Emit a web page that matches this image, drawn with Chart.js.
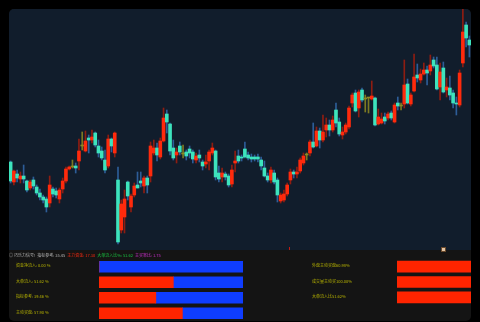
<!DOCTYPE html>
<html>
<head>
<meta charset="utf-8">
<script src="https://cdn.jsdelivr.net/npm/chart.js@4"></script>
<style>
    html, body { margin: 0; padding: 0; background: #000; width: 480px; height: 322px; overflow: hidden; }
    body { font-family: "Noto Sans CJK SC", "Noto Sans", sans-serif; }
    #wrap { position: absolute; left: 9px; top: 9px; width: 462px; height: 312px; border-radius: 5px; overflow: hidden; background: #141414; }
    #kPanel { position: absolute; left: 0; top: 0; width: 462px; height: 241px; background: #111d2c; }
    #headline { position: absolute; left: 0; top: 244px; height: 5px; line-height: 5px; font-size: 4px; white-space: nowrap; color: #b9b9b9; }
    #headline span { margin-right: 2px; }
    .lbl { position: absolute; font-size: 4px; line-height: 5px; color: #b8b400; white-space: nowrap; }
    .barBox { position: absolute; }
    .tick { position: absolute; left: 280px; top: 238px; width: 1px; height: 3px; background: #c41a10; }
    .flag { position: absolute; left: 432px; top: 238px; width: 3px; height: 3px; background: #e2c4a4; border: 1px solid #6a4a2c; }
</style>
</head>
<body>
<div id="wrap">
    <div id="kPanel"><canvas id="kChart"></canvas></div>
    <div class="tick"></div>
    <div class="flag"></div>
    <div id="headline"></div>
    <div id="leftLabels"></div>
    <div id="rightLabels"></div>
    <div class="barBox" style="left:90px; top:250px; width:144px; height:62px;"><canvas id="leftBars"></canvas></div>
    <div class="barBox" style="left:388px; top:250px; width:144px; height:46px;"><canvas id="rightBars"></canvas></div>
</div>
<script>
// --- K-line data (open / high / low / close) ---
const candleOpen = [
    8.8, 6.8, 7.6, 7.1, 7.4, 6.9, 6.2, 7.0, 6.3, 5.7,
    5.3, 5.1, 4.7, 6.1, 5.9, 5.1, 6.1, 6.9, 8.1, 8.3,
    8.4, 8.9, 10.4, 9.9, 11.2, 11.0, 11.7, 10.4, 9.9, 9.0,
    8.4, 11.1, 9.7, 7.0, 2.0, 3.3, 6.8, 4.3, 5.5, 6.5,
    6.9, 6.4, 7.2, 7.4, 9.7, 10.2, 9.3, 10.9, 13.6, 12.6,
    10.2, 9.5, 10.4, 9.6, 9.8, 10.1, 9.8, 9.0, 9.5, 8.8,
    8.6, 8.9, 9.7, 9.9, 7.7, 7.3, 7.6, 7.4, 6.6, 8.7,
    9.4, 9.3, 10.1, 9.5, 9.3, 9.3, 9.3, 9.0, 8.2, 7.4,
    7.0, 7.7, 7.0, 4.9, 5.0, 5.6, 7.0, 7.8, 7.6, 7.9,
    8.7, 9.5, 9.7, 10.8, 10.4, 11.9, 11.0, 12.0, 12.5, 12.0,
    14.0, 12.8, 11.5, 11.8, 12.3, 14.7, 15.7, 14.2, 16.0, 15.1,
    15.2, 15.1, 15.2, 12.6, 12.7, 13.3, 13.2, 13.7, 12.8, 14.7,
    14.4, 14.6, 16.6, 14.6, 15.9, 17.5, 17.0, 17.6, 18.0, 17.9,
    19.0, 18.5, 16.3, 18.2, 16.0, 16.2, 15.7, 14.7, 14.5, 18.7,
    22.5, 21.0
];
const candleHigh = [
    8.9, 8.0, 8.0, 7.8, 8.5, 7.0, 7.0, 7.3, 6.5, 6.1,
    5.5, 5.3, 7.4, 6.3, 6.2, 6.2, 7.2, 8.3, 8.4, 9.0,
    8.7, 11.1, 11.8, 11.9, 11.5, 12.0, 11.8, 11.0, 10.3, 10.0,
    11.5, 11.2, 11.8, 8.3, 5.0, 6.0, 6.9, 5.6, 6.7, 7.8,
    7.8, 7.4, 7.4, 10.8, 11.0, 10.7, 11.2, 14.2, 14.0, 12.7,
    11.0, 10.2, 10.8, 10.5, 10.0, 10.4, 10.0, 9.7, 10.0, 9.0,
    9.5, 10.0, 10.7, 10.0, 8.4, 8.2, 7.8, 7.6, 8.5, 9.9,
    10.0, 9.5, 10.8, 9.8, 9.6, 9.5, 9.6, 9.3, 8.9, 7.7,
    8.3, 8.0, 7.2, 5.7, 6.0, 6.7, 8.1, 8.0, 8.3, 9.2,
    9.7, 9.7, 11.0, 12.7, 12.3, 12.2, 13.5, 13.2, 13.0, 13.4,
    14.7, 13.2, 12.3, 12.7, 14.4, 15.7, 16.0, 16.0, 16.2, 15.5,
    15.2, 16.9, 15.3, 14.1, 13.7, 13.7, 13.8, 13.9, 14.7, 15.3,
    14.7, 19.0, 17.1, 15.7, 19.6, 18.6, 18.1, 18.7, 18.4, 19.5,
    19.3, 19.3, 18.7, 18.8, 17.2, 17.4, 16.0, 15.3, 18.0, 24.1,
    22.8, 21.4
];
const candleLow = [
    6.7, 6.5, 6.8, 6.7, 6.7, 5.8, 6.0, 6.1, 5.5, 5.0,
    4.7, 3.8, 4.3, 5.3, 5.2, 4.7, 5.7, 6.7, 8.0, 8.2,
    7.7, 8.0, 10.0, 9.8, 9.7, 10.7, 10.3, 9.3, 9.0, 7.7,
    8.2, 9.8, 9.3, 0.6, 1.7, 1.7, 5.0, 3.8, 5.3, 6.2,
    6.3, 5.7, 5.7, 6.8, 9.5, 8.9, 9.1, 10.8, 11.7, 9.5,
    9.0, 8.7, 9.5, 9.2, 9.0, 9.2, 8.7, 8.7, 8.8, 8.0,
    8.2, 8.0, 9.5, 7.0, 6.8, 6.8, 7.0, 6.3, 6.3, 7.8,
    8.7, 8.9, 9.2, 9.0, 8.8, 8.9, 8.8, 8.0, 7.3, 6.8,
    6.7, 6.6, 4.8, 4.7, 4.8, 5.4, 6.6, 7.2, 7.2, 7.7,
    8.5, 9.0, 9.4, 10.2, 10.3, 10.2, 10.8, 11.3, 11.4, 11.8,
    12.3, 11.4, 11.1, 11.6, 12.1, 14.3, 13.8, 13.3, 14.8, 13.8,
    13.7, 15.0, 12.4, 12.5, 12.6, 12.6, 13.0, 13.0, 12.7, 14.0,
    14.0, 14.2, 14.6, 14.4, 15.8, 16.8, 16.7, 17.5, 16.5, 17.5,
    18.2, 16.0, 15.0, 15.7, 15.3, 15.0, 14.2, 13.5, 14.3, 18.3,
    20.3, 19.3
];
const candleClose = [
    6.9, 7.9, 7.2, 7.4, 7.1, 6.0, 6.8, 6.4, 5.7, 5.3,
    5.0, 4.3, 6.5, 5.6, 5.5, 6.0, 6.9, 8.1, 8.3, 8.3,
    8.2, 9.9, 10.4, 10.9, 11.0, 11.3, 10.5, 9.7, 9.2, 8.0,
    11.1, 10.4, 11.7, 0.8, 4.6, 5.1, 5.4, 5.4, 6.4, 6.2,
    6.7, 7.2, 6.5, 10.4, 10.2, 9.5, 10.9, 13.2, 12.8, 9.9,
    9.2, 9.8, 9.8, 9.6, 9.4, 9.7, 9.1, 9.4, 9.2, 8.4,
    8.8, 9.8, 10.2, 7.3, 7.1, 7.7, 7.3, 6.5, 8.0, 8.9,
    8.9, 9.2, 9.3, 9.2, 9.1, 9.1, 9.1, 8.4, 7.4, 7.0,
    8.0, 6.8, 5.5, 5.5, 5.6, 6.5, 7.8, 7.6, 7.8, 9.0,
    9.4, 9.5, 10.8, 10.3, 11.9, 11.0, 11.8, 12.5, 12.0, 13.0,
    12.7, 11.6, 11.8, 12.5, 14.2, 15.5, 13.9, 15.8, 15.0, 15.1,
    15.2, 15.4, 12.5, 13.3, 13.1, 12.9, 13.6, 13.2, 14.5, 14.4,
    14.4, 16.5, 14.7, 15.5, 17.3, 17.2, 17.6, 18.0, 17.7, 18.5,
    18.4, 16.1, 17.8, 15.8, 16.3, 15.5, 14.7, 14.6, 17.7, 21.8,
    21.2, 20.5
];
const candleLabels = candleOpen.map((_, i) => 'D' + (i + 1));

// --- Indicator readouts ---
const headItems = ['指标参考: 35.45', '主力资金: 17.30', '大单流入比%: 51.62', '主买率比: 1.75'];
const headColors = ['#b9b9b9', '#ff2a10', '#18c040', '#d030d0'];

const leftNames = ['资金净流入:', '大单流入:', '指标参考:', '主动买盘:'];
const leftValues = [0.00, 51.62, 39.46, 57.90];
const rightNames = ['外盘主动买盘', '成交量主动买', '大单流入比'];
const rightValues = [60.98, 100.00, 51.62];

document.addEventListener('DOMContentLoaded', function () {

    // --- Candle colours (red up, teal down, olive flat) ---
    const bodyColors = candleOpen.map((o, i) => {
        const c = candleClose[i];
        if (c > o) return '#ff2a0c';
        if (c < o) return '#3de3bd';
        return '#8c8a24';
    });
    const wickColors = candleOpen.map((o, i) => {
        const c = candleClose[i];
        if (c > o) return '#8e1d12';
        if (c < o) return '#2d5d98';
        return '#7c7a22';
    });

    const ctxK = document.getElementById('kChart');
    if (ctxK) {
        new Chart(ctxK.getContext('2d'), {
            type: 'bar',
            data: {
                labels: candleLabels,
                datasets: [{
                    label: 'body',
                    data: candleOpen.map((o, i) => [o, candleClose[i]]),
                    backgroundColor: bodyColors,
                    barThickness: 3,
                    minBarLength: 1,
                    grouped: false,
                    borderWidth: 0
                }, {
                    label: 'wick',
                    data: candleLow.map((l, i) => [l, candleHigh[i]]),
                    backgroundColor: wickColors,
                    barThickness: 1,
                    grouped: false,
                    borderWidth: 0
                }]
            },
            options: {
                responsive: true,
                maintainAspectRatio: false,
                animation: false,
                layout: { padding: 0 },
                plugins: { legend: { display: false }, tooltip: { enabled: false } },
                scales: {
                    x: { display: false },
                    y: { display: false, min: 0, max: 24.1 }
                }
            }
        });
    }

    // --- Headline + labels ---
    const head = document.getElementById('headline');
    head.innerHTML = '<span style="color:#b9b9b9">◎ 巧乐力信号!</span>' +
        headItems.map((t, i) => `<span style="color:${headColors[i]}">${t}</span>`).join('');

    const leftBox = document.getElementById('leftLabels');
    leftNames.forEach((n, i) => {
        const d = document.createElement('div');
        d.className = 'lbl';
        d.style.left = '7px';
        d.style.top = (254 + i * 15.5) + 'px';
        d.textContent = `${n}  ${leftValues[i].toFixed(2)} %`;
        leftBox.appendChild(d);
    });
    const rightBox = document.getElementById('rightLabels');
    rightNames.forEach((n, i) => {
        const d = document.createElement('div');
        d.className = 'lbl';
        d.style.left = '303px';
        d.style.top = (254 + i * 15.5) + 'px';
        d.textContent = `${n}${rightValues[i].toFixed(2)}%`;
        rightBox.appendChild(d);
    });

    // --- Ratio bars ---
    function ratioBars(id, names, values) {
        const el = document.getElementById(id);
        if (!el) return;
        new Chart(el.getContext('2d'), {
            type: 'bar',
            data: {
                labels: names,
                datasets: [{
                    data: values,
                    backgroundColor: '#ff2400',
                    barThickness: 11
                }, {
                    data: values.map(v => 100 - v),
                    backgroundColor: '#0f3dff',
                    barThickness: 11
                }]
            },
            options: {
                indexAxis: 'y',
                responsive: true,
                maintainAspectRatio: false,
                animation: false,
                layout: { padding: 0 },
                plugins: { legend: { display: false }, tooltip: { enabled: false } },
                scales: {
                    x: { display: false, stacked: true, min: 0, max: 100 },
                    y: { display: false, stacked: true }
                }
            }
        });
    }
    ratioBars('leftBars', leftNames, leftValues);
    ratioBars('rightBars', rightNames, rightValues);
});
</script>
</body>
</html>
